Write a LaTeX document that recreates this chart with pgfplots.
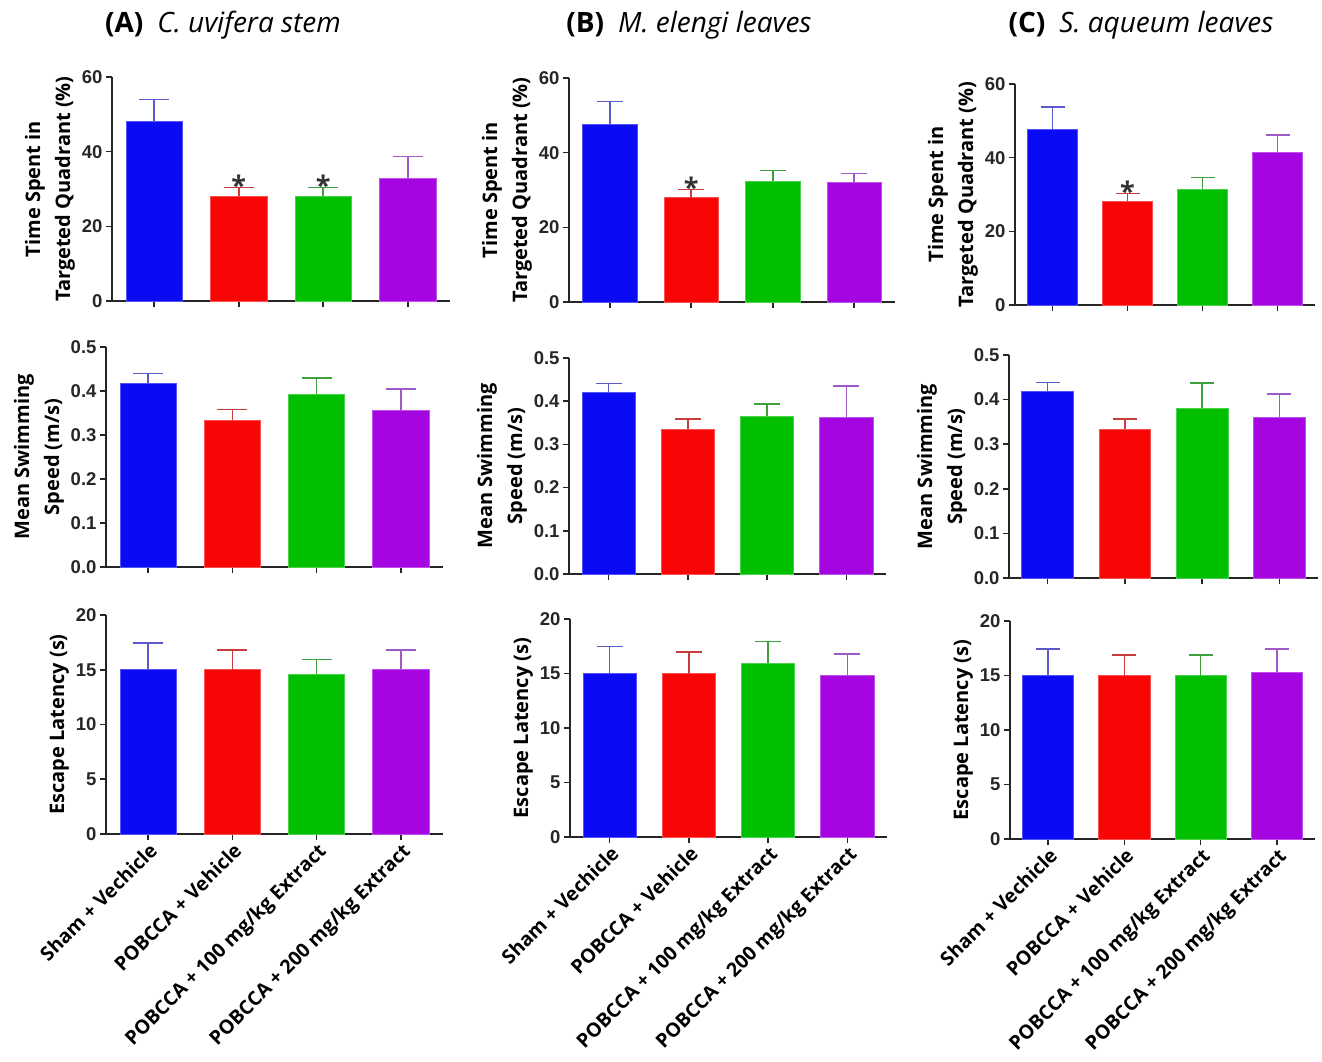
\documentclass[border=0pt]{standalone}
\usepackage{fontspec}
\setmainfont{Open Sans}
\newfontfamily\tickfont{Liberation Sans}
\usepackage{pgfplots}
\pgfplotsset{compat=1.18}

\definecolor{cblue}{RGB}{10,10,245}
\definecolor{cred}{RGB}{250,5,5}
\definecolor{cgreen}{RGB}{0,190,0}
\definecolor{cpurple}{RGB}{165,5,225}
\definecolor{eblue}{RGB}{90,90,200}
\definecolor{ered}{RGB}{200,60,60}
\definecolor{egreen}{RGB}{60,160,60}
\definecolor{epurple}{RGB}{160,90,200}

\pgfplotsset{
 panel/.style={scale only axis, anchor=south west, xmin=-0.5, xmax=3.5, ymin=0,
   axis lines=left, axis line style={-, line width=1.8pt, black!85},
   tick align=outside, major tick length=6pt, tick style={line width=1.6pt, black!85},
   xtick={0,1,2,3}, clip=false,
   tick label style={font=\tickfont\bfseries\fontsize{18.5}{20}\selectfont, black!85},
   /pgf/number format/assume math mode=true,
   ylabel style={font=\bfseries\fontsize{20}{30}\selectfont, align=center}},
 nolabels/.style={xticklabels={}},
 withlabels/.style={xticklabels={Sham + Vechicle, POBCCA + Vehicle, POBCCA + 100 mg/kg Extract, POBCCA + 200 mg/kg Extract},
   x tick label style={rotate=45, anchor=north east, font=\bfseries\fontsize{19.5}{22}\selectfont, black, inner sep=1pt}},
 r1/.style={ymax=60, ytick={0,20,40,60}, ylabel={Time Spent in\\Targeted Quadrant (\%)}},
 r2/.style={ymax=0.5, ytick={0,0.1,0.2,0.3,0.4,0.5},
   yticklabel style={/pgf/number format/.cd, fixed, fixed zerofill, precision=1},
   ylabel={Mean Swimming\\Speed (m/s)}},
 r3/.style={ymax=20, ytick={0,5,10,15,20}, ylabel={Escape Latency (s)}},
 barsty/.style n args={2}{ybar, bar width=0.67, bar shift=0pt, fill=#1, draw=#1!70!white, line width=0.8pt,
   error bars/.cd, y dir=plus, y explicit, error bar style={draw=#2, line width=1.6pt},
   error mark options={rotate=90, draw=#2, line width=1.6pt, mark size=\capsize}},
 stars/.style={draw=none, mark=none, nodes near coords={*},
   every node near coord/.append style={font=\bfseries\fontsize{27}{27}\selectfont, anchor=base, yshift=-8pt, black!80}},
}

\newcommand{\fourbars}[8]{%
 \addplot[barsty={cblue}{eblue}] coordinates {(0,#1) +- (0,#2)};
 \addplot[barsty={cred}{ered}] coordinates {(1,#3) +- (0,#4)};
 \addplot[barsty={cgreen}{egreen}] coordinates {(2,#5) +- (0,#6)};
 \addplot[barsty={cpurple}{epurple}] coordinates {(3,#7) +- (0,#8)};
}

\begin{document}
\begin{tikzpicture}[x=1pt,y=1pt]
\path (0,0) rectangle (1322,-1061);

\node[font=\fontsize{28}{32}\selectfont] at (223,-25) {\textbf{(A)}\enspace\textit{C. uvifera stem}};
\node[font=\fontsize{28}{32}\selectfont] at (689,-25) {\textbf{(B)}\enspace\textit{M. elengi leaves}};
\node[font=\fontsize{28}{32}\selectfont] at (1141,-25) {\textbf{(C)}\enspace\textit{S. aqueum leaves}};

% ---- column A ----
\def\capsize{15pt}
\begin{axis}[panel, r1, nolabels, at={(112pt,-301pt)}, width=338pt, height=224pt]
\fourbars{48}{6.0}{28.1}{2.3}{28}{2.4}{32.9}{5.8}
\addplot[stars] coordinates {(1,30.4) (2,30.4)};
\end{axis}
\begin{axis}[panel, r2, nolabels, at={(106pt,-567pt)}, width=337pt, height=220pt]
\fourbars{0.418}{0.022}{0.333}{0.025}{0.393}{0.037}{0.357}{0.047}
\end{axis}
\begin{axis}[panel, r3, withlabels, at={(106pt,-834pt)}, width=337pt, height=219pt]
\fourbars{15.0}{2.47}{15.0}{1.8}{14.6}{1.35}{15.0}{1.8}
\end{axis}

% ---- column B ----
\def\capsize{13pt}
\begin{axis}[panel, r1, nolabels, at={(569pt,-302pt)}, width=326pt, height=224pt]
\fourbars{47.7}{6.0}{27.9}{2.2}{32.3}{2.9}{32.1}{2.3}
\addplot[stars] coordinates {(1,30.1)};
\end{axis}
\begin{axis}[panel, r2, nolabels, at={(569pt,-574pt)}, width=317pt, height=216pt]
\fourbars{0.420}{0.021}{0.335}{0.024}{0.366}{0.028}{0.362}{0.073}
\end{axis}
\begin{axis}[panel, r3, withlabels, at={(570pt,-837pt)}, width=317pt, height=218pt]
\fourbars{15.0}{2.48}{15.0}{1.97}{15.96}{1.98}{14.82}{1.97}
\end{axis}

% ---- column C ----
\def\capsize{12pt}
\begin{axis}[panel, r1, nolabels, at={(1015pt,-305pt)}, width=300pt, height=221pt]
\fourbars{47.7}{6.1}{28.2}{2.1}{31.4}{3.2}{41.4}{4.7}
\addplot[stars] coordinates {(1,30.3)};
\end{axis}
\begin{axis}[panel, r2, nolabels, at={(1009pt,-578pt)}, width=309pt, height=223pt]
\fourbars{0.418}{0.020}{0.334}{0.022}{0.381}{0.056}{0.361}{0.052}
\end{axis}
\begin{axis}[panel, r3, withlabels, at={(1010pt,-839pt)}, width=305pt, height=218pt]
\fourbars{15.0}{2.46}{15.0}{1.9}{15.0}{1.9}{15.3}{2.16}
\end{axis}
\end{tikzpicture}
\end{document}
